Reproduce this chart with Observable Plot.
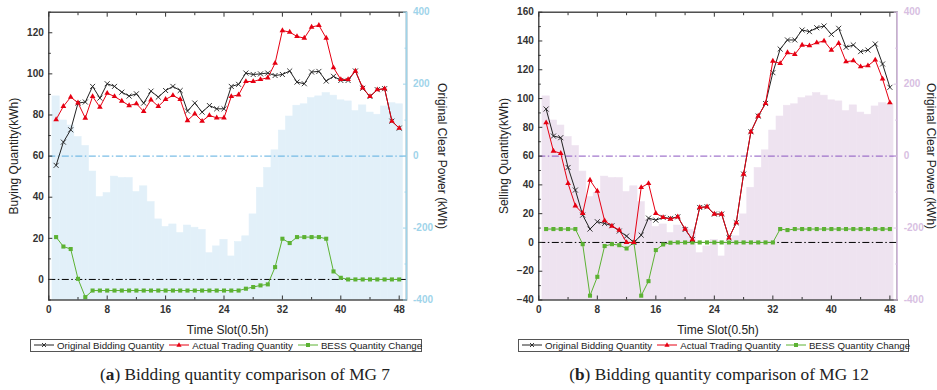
<!DOCTYPE html>
<html>
<head>
<meta charset="utf-8">
<script src="https://cdn.jsdelivr.net/npm/d3@7"></script>
<script src="https://cdn.jsdelivr.net/npm/@observablehq/plot@0.6"></script>
<style>
  html, body { margin: 0; padding: 0; background: #fff; }
  #root { position: relative; width: 937px; height: 390px; font-family: "Liberation Sans", Arial, sans-serif; }
  .panel { position: absolute; top: 0; height: 390px; }
  .legend { position: absolute; top: 339px; height: 12.5px; border: 1px solid #555; display: flex; align-items: center;
            font-size: 9.7px; color: #222; white-space: nowrap; box-sizing: border-box; padding: 0 2px; }
  .legend .item { display: flex; align-items: center; margin-right: 4px; }
  .legend svg { margin-right: 2px; }
  .caption { position: absolute; top: 365px; font-family: "Liberation Serif", "DejaVu Serif", serif; font-size: 17.3px;
             color: #222; white-space: nowrap; transform: translateX(-50%); }
</style>
</head>
<body>
<div id="root"></div>
<script>
// ---------- data ----------
const slots = d3.range(1, 49);
// Original clear power (kWh), right axis, identical in both panels
const clearPower = [166,99,85,53,28,-43,-114,-103,-57,-61,
  -61,-100,-84,-128,-176,-197,-190,-214,-193,-199,
  -205,-270,-251,-233,-279,-239,-223,-162,-88,-33,
  16,71,110,140,144,161,166,175,168,155,
  152,125,141,121,115,138,147,144];
// MG 7 (buying)
const mg7Original = [55.5,66.8,72.8,85.8,86.3,93.9,88.2,95.2,93.9,91.1,
  89.2,90.3,85.8,91.6,88.7,91.9,93.9,91.9,81.9,85.8,
  81.4,84.6,83.0,83.0,93.9,94.9,100.4,99.7,100,100.4,
  99.2,99.7,101.4,96,95.2,100.9,101.2,96.5,98.8,96.8,
  96.8,101.4,93,89,92.3,92.8,77,73.6];
const mg7Actual = [77.8,84.2,88.7,85.9,78.5,89,83.8,90.6,89,86.8,
  84.6,85.5,81.7,87.4,84.2,87.6,89.5,87.6,77.3,80.6,
  77,79.8,78.6,78.6,89,89.8,96.3,96.3,97.3,98.1,
  105.2,121.1,120.3,118.2,117.4,122.8,123.6,117.4,103,97.3,
  97.3,101.4,93.2,89,92.3,92.8,77,73.6];
const mg7Bess = [20.6,16,14.8,0.3,-8.6,-5.4,-5.4,-5.4,-5.4,-5.4,
  -5.4,-5.4,-5.4,-5.4,-5.4,-5.4,-5.4,-5.4,-5.4,-5.4,
  -5.4,-5.4,-5.4,-5.4,-5.4,-5.4,-4.5,-3.7,-2.9,-2.4,
  6,19.8,17.7,20.6,20.6,20.6,20.6,19.8,3.9,0.8,
  0,0,0,0,0,0,0,0];
// MG 12 (selling)
const mg12Original = [92.7,73.9,72.8,52.1,36.4,19,9.3,14.4,13.2,11.6,
  7.9,4.4,0,5.1,16.9,15.5,17.4,16.7,17.8,9,
  2,24.3,24.8,19.7,19.7,3.2,13.7,47.5,76.9,87.8,
  96.6,118,134.4,140.7,140.7,147.6,146.5,149.2,150.4,144.6,
  148.8,135.6,137.2,132.6,133.7,137.9,124,107.8];
const mg12Actual = [83.2,63.5,61.9,41,25.5,20.2,43.3,35.7,15.1,11.4,
  8.6,0,0,38.2,41,20.2,17.4,16.2,17.8,9.3,
  2,24.3,24.8,19.7,19.7,3.2,13.7,47.5,76.9,87.8,
  96.6,126,124.4,131.9,130.7,137.2,136.7,138.8,140,133.7,
  138.4,125.6,126.3,122.1,122.8,126.8,113.6,97.1];
const mg12Bess = [9.3,9.3,9.3,9.3,9.3,-1.2,-37,-23.9,-2.5,-1.2,
  -1.9,-4.2,0,-37,-26.9,-5.3,-1.4,-0.2,0,0,
  0,0,0,0,0,0,0,0,0,0,
  0,0,9.3,8.6,9.3,9.3,9.3,9.3,9.3,9.3,
  9.3,9.3,9.3,9.3,9.3,9.3,9.3,9.3];

const xTicks = [0,8,16,24,32,40,48];
const xMinor = [4,12,20,28,36,44];
const rightTicks = [-400,-200,0,200,400];
const rightMinor = [-300,-100,100,300];
const legendLabels = ["Original Bidding Quantity","Actual Trading Quantity","BESS Quantity Change"];

const RED = "#e60012", GREEN = "#5cb233", BLACK = "#222";

function makePanel(cfg) {
  const {k, yDomain, yTicks, yMinor, orig, actual, bess, fill, axisColor, refColor} = cfg;
  const toLeft = r => 60 + r / k;
  const rows = slots.map((s, i) => ({slot: s, orig: orig[i], actual: actual[i], bess: bess[i]}));
  const bars = slots.map((s, i) => ({x1: s - 0.5, x2: s + 0.5, y: toLeft(clearPower[i])}));
  const dash = "7,2.5,1.5,2.5";
  const blank = () => "";
  return Plot.plot({
    width: cfg.width, height: 339,
    marginLeft: cfg.marginLeft, marginRight: cfg.marginRight, marginTop: 11.7, marginBottom: 39.5,
    style: {fontFamily: "'Liberation Sans', Arial, sans-serif", fontSize: "10px", color: "#333", background: "white", overflow: "visible"},
    x: {domain: [0, 49]},
    y: {domain: yDomain},
    marks: [
      Plot.rect(bars, {x1: "x1", x2: "x2", y1: yDomain[0], y2: "y", fill, stroke: fill, strokeWidth: 0.6, inset: 0}),
      Plot.ruleY([0], {stroke: "#000", strokeWidth: 1, strokeDasharray: dash}),
      Plot.ruleY([60], {stroke: refColor, strokeWidth: 1, strokeDasharray: dash}),
      Plot.line(rows, {x: "slot", y: "bess", stroke: GREEN, strokeWidth: 1}),
      Plot.dot(rows, {x: "slot", y: "bess", symbol: "square", r: 2.3, fill: GREEN, stroke: null}),
      Plot.line(rows, {x: "slot", y: "orig", stroke: BLACK, strokeWidth: 1}),
      Plot.dot(rows, {x: "slot", y: "orig", symbol: "times", r: 2.4, stroke: BLACK, strokeWidth: 0.9}),
      Plot.line(rows, {x: "slot", y: "actual", stroke: RED, strokeWidth: 1}),
      Plot.dot(rows, {x: "slot", y: "actual", symbol: "triangle", r: 2.1, fill: RED, stroke: null}),
      // frame
      Plot.frame({stroke: "#333", strokeWidth: 1.3}),
      Plot.ruleX([49], {stroke: axisColor, strokeWidth: 1.6}),
      // left axis
      Plot.axisY({ticks: yTicks, tickSize: 0, tickPadding: 5, fontWeight: "bold", fill: "#333", label: null}),
      Plot.axisY({ticks: yTicks, tickSize: -4, tickFormat: blank, label: null, stroke: "#333"}),
      Plot.axisY({ticks: yMinor, tickSize: -2.5, tickFormat: blank, label: null, stroke: "#333"}),
      // right axis
      Plot.axisY({anchor: "right", ticks: rightTicks.map(toLeft), tickFormat: v => String(Math.round((v - 60) * k)),
                  tickSize: 0, tickPadding: 6.5, fontWeight: "bold", fill: axisColor, label: null}),
      Plot.axisY({anchor: "right", ticks: rightTicks.map(toLeft), tickSize: -4, tickFormat: blank, label: null, stroke: axisColor}),
      Plot.axisY({anchor: "right", ticks: rightMinor.map(toLeft), tickSize: -2.5, tickFormat: blank, label: null, stroke: axisColor}),
      // bottom axis
      Plot.axisX({ticks: xTicks, tickSize: 0, tickPadding: 6, fontWeight: "bold", fill: "#333", label: null}),
      Plot.axisX({ticks: xTicks, tickSize: -4, tickFormat: blank, label: null, stroke: "#333"}),
      Plot.axisX({ticks: xMinor, tickSize: -2.5, tickFormat: blank, label: null, stroke: "#333"}),
      // top axis ticks
      Plot.axisX({anchor: "top", ticks: xTicks, tickSize: -4, tickFormat: blank, label: null, stroke: "#333"}),
      Plot.axisX({anchor: "top", ticks: xMinor, tickSize: -2.5, tickFormat: blank, label: null, stroke: "#333"}),
      // titles
      Plot.text([cfg.yLabel], {frameAnchor: "left", textAnchor: "middle", rotate: -90, dx: -35, fontSize: 12, fill: "#222", lineAnchor: "middle"}),
      Plot.text(["Original Clear Power (kWh)"], {frameAnchor: "right", textAnchor: "middle", rotate: 90, dx: cfg.rightTitleDx, fontSize: 12, fill: "#222", lineAnchor: "middle"}),
      Plot.text(["Time Slot(0.5h)"], {frameAnchor: "bottom", textAnchor: "middle", dy: 30.5, fontSize: 12, fill: "#222", lineAnchor: "middle"})
    ]
  });
}

function legendSymbol(kind) {
  const ns = "http://www.w3.org/2000/svg";
  const svg = document.createElementNS(ns, "svg");
  svg.setAttribute("width", 22); svg.setAttribute("height", 10);
  const color = kind === 0 ? BLACK : kind === 1 ? RED : GREEN;
  const line = document.createElementNS(ns, "line");
  line.setAttribute("x1", 1); line.setAttribute("x2", 21); line.setAttribute("y1", 5); line.setAttribute("y2", 5);
  line.setAttribute("stroke", color); line.setAttribute("stroke-width", 1);
  svg.appendChild(line);
  let m;
  if (kind === 0) {
    m = document.createElementNS(ns, "path");
    m.setAttribute("d", "M9,3L13,7M13,3L9,7"); m.setAttribute("stroke", color); m.setAttribute("stroke-width", 0.9);
  } else if (kind === 1) {
    m = document.createElementNS(ns, "path");
    m.setAttribute("d", "M11,2.3L13.6,6.8L8.4,6.8Z"); m.setAttribute("fill", color);
  } else {
    m = document.createElementNS(ns, "rect");
    m.setAttribute("x", 9); m.setAttribute("y", 3); m.setAttribute("width", 4); m.setAttribute("height", 4); m.setAttribute("fill", color);
  }
  svg.appendChild(m);
  return svg;
}

function buildPanel(cfg) {
  const div = document.createElement("div");
  div.className = "panel";
  div.style.left = cfg.left + "px";
  div.style.width = cfg.width + "px";
  div.appendChild(makePanel(cfg));
  const leg = document.createElement("div");
  leg.className = "legend";
  leg.style.left = cfg.legendLeft + "px";
  leg.style.width = cfg.legendWidth + "px";
  leg.style.justifyContent = "space-between";
  legendLabels.forEach((t, i) => {
    const it = document.createElement("div");
    it.className = "item";
    it.appendChild(legendSymbol(i));
    const sp = document.createElement("span");
    sp.textContent = t;
    it.appendChild(sp);
    leg.appendChild(it);
  });
  div.appendChild(leg);
  const cap = document.createElement("div");
  cap.className = "caption";
  cap.style.left = cfg.captionCenter + "px";
  cap.innerHTML = "(<b>" + cfg.letter + "</b>) " + cfg.caption;
  div.appendChild(cap);
  document.getElementById("root").appendChild(div);
}

buildPanel({
  left: 0, width: 468, marginLeft: 48.3, marginRight: 62, rightTitleDx: 35.5,
  k: 800 / 140, yDomain: [-10, 130], yTicks: [0,20,40,60,80,100,120], yMinor: [-10,10,30,50,70,90,110,130],
  orig: mg7Original, actual: mg7Actual, bess: mg7Bess,
  fill: "#e2f0f9", axisColor: "#9fd4ea", refColor: "#5aaee0",
  yLabel: "Buying Quantity(kWh)",
  legendLeft: 30, legendWidth: 392, captionCenter: 245, letter: "a", caption: "Bidding quantity comparison of MG 7"
});
buildPanel({
  left: 468, width: 469, marginLeft: 70.3, marginRight: 40.3, rightTitleDx: 34,
  k: 800 / 200, yDomain: [-40, 160], yTicks: [-40,-20,0,20,40,60,80,100,120,140,160], yMinor: [-30,-10,10,30,50,70,90,110,130,150],
  orig: mg12Original, actual: mg12Actual, bess: mg12Bess,
  fill: "#eee3f0", axisColor: "#d8bfe2", refColor: "#8a55c0",
  yLabel: "Selling Quantity(kWh)",
  legendLeft: 50, legendWidth: 391, captionCenter: 251, letter: "b", caption: "Bidding quantity comparison of MG 12"
});
</script>
</body>
</html>
